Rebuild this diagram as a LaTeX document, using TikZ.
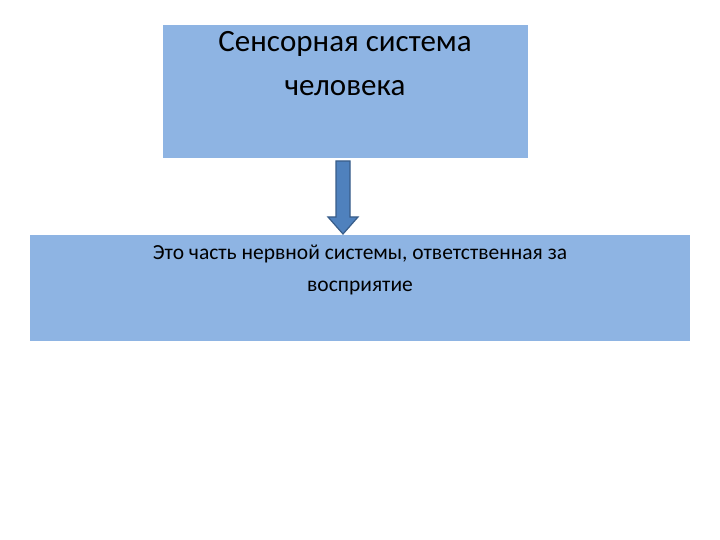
\documentclass[tikz,border=0pt]{standalone}
\usepackage{fontspec}
\setmainfont{Carlito}
\usetikzlibrary{shapes.arrows}
\begin{document}
\begin{tikzpicture}[x=1pt,y=-1pt,
  box/.style={draw=none,fill={rgb,255:red,142;green,180;blue,227},inner sep=0pt}]
\useasboundingbox[fill=white] (0,0) rectangle (720,540);
\node[box,minimum width=365pt,minimum height=133pt,anchor=north west] (top) at (163,25) {};
\node[anchor=north,align=center,font=\fontsize{31}{44}\selectfont] (t1) at (345,28) {Сенсорная система\\человека};
\node[box,minimum width=660pt,minimum height=106pt,anchor=north west] (bot) at (30,235) {};
\node[anchor=north,align=center,font=\fontsize{21.5}{32}\selectfont] (t2) at (360,241) {Это часть нервной системы, ответственная за\\восприятие};
\coordinate (a0) at (343,161);
\coordinate (a1) at (343,234);
\draw[fill={rgb,255:red,79;green,129;blue,189},draw={rgb,255:red,56;green,93;blue,138},line width=1.2pt]
 (336,161) -- (350,161) -- (350,217) -- (358,217) -- (a1) -- (328,217) -- (336,217) -- cycle;
\end{tikzpicture}
\end{document}
